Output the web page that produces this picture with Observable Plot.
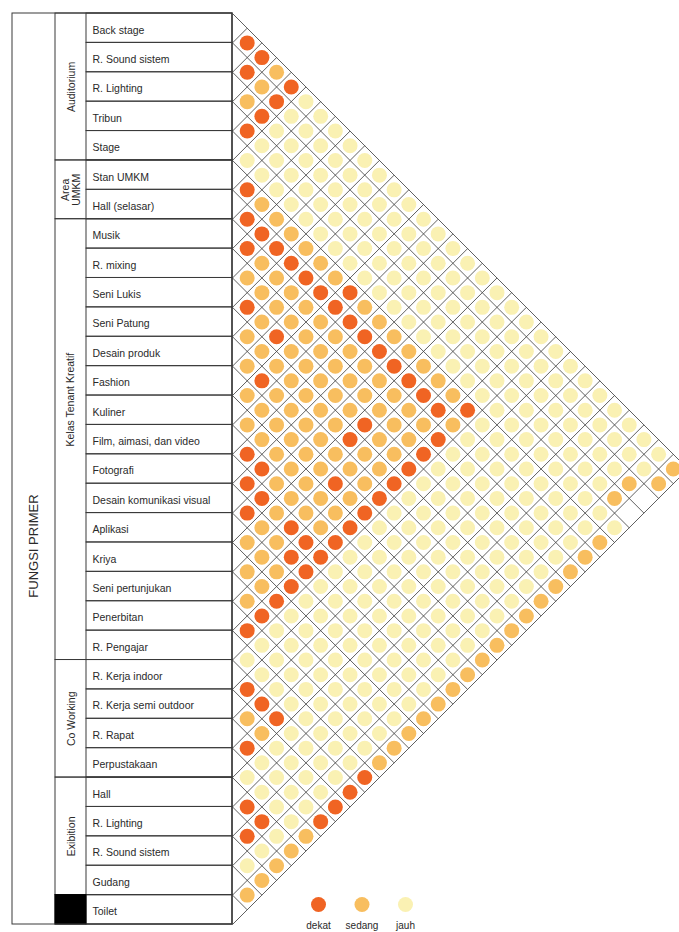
<!DOCTYPE html>
<html>
<head>
<meta charset="utf-8">
<script src="https://cdn.jsdelivr.net/npm/d3@7"></script>
<script src="https://cdn.jsdelivr.net/npm/@observablehq/plot@0.6"></script>
<style>
  html, body { margin: 0; padding: 0; background: #fff; }
  #chart svg { display: block; }
</style>
</head>
<body>
<div id="chart"></div>
<script>
// ---- data ----
const rooms = [
  "Back stage", "R. Sound sistem", "R. Lighting", "Tribun", "Stage",
  "Stan UMKM", "Hall (selasar)",
  "Musik", "R. mixing", "Seni Lukis", "Seni Patung", "Desain produk", "Fashion",
  "Kuliner", "Film, aimasi, dan video", "Fotografi", "Desain komunikasi visual",
  "Aplikasi", "Kriya", "Seni pertunjukan", "Penerbitan", "R. Pengajar",
  "R. Kerja indoor", "R. Kerja semi outdoor", "R. Rapat", "Perpustakaan",
  "Hall", "R. Lighting", "R. Sound sistem", "Gudang",
  "Toilet"
];
const groupNames = ["Auditorium", "Area\nUMKM", "Kelas Tenant Kreatif", "Co Working", "Exibition", ""];
const groupSizes = [5, 2, 15, 4, 4, 1];
const mainLabel = "FUNGSI PRIMER";
// relation of room i with rooms i+1 ... last (D = dekat, S = sedang, J = jauh)
const relations = [
  "DDSDJJJJJJJJJJJJJJJJJJJJJJJJJS",
  "DSDJJJJJJJJJJJJJJJJJJJJJJJJJS",
  "SDJJJJJJJJJJJJJJJJJJJJJJJJS",
  "DJJJJJJJJJJJJJJJJJJJJJJJJS",
  "JJJJJJJJJJJJJJJJJJJJJJJJJJ",
  "DSSSSSSDSSSSSSSDJJJJJJJJS",
  "DDDDDDDDDDDDDDSJJJJJJJJS",
  "DSSSSSSSSSSSSDJJJJJJJJS",
  "SSSSSSSSSSSSDJJJJJJJJS",
  "DSDSSSSSDSSDJJJJJJJJS",
  "SSSSSSSDSSDJJJJJJJJS",
  "SDSSSSSSSDJJJJJJJJS",
  "SSSSSSDSDJJJJJJJJS",
  "SSSSSSSDJJJJJJJJS",
  "DDSSSSDJJJJJJJJS",
  "DDSDDDJJJJJJJJS",
  "DSSDDJJJJJJJJS",
  "SSSDJJJJJJJJS",
  "SSDJJJJJJJJS",
  "SDJJJJJJJJS",
  "DJJJJJJJJS",
  "JJJJJJJJD",
  "DDDJJJJD",
  "SSJJJJD",
  "DJJJJD",
  "JJJJS",
  "DDJS",
  "DJS",
  "JS",
  "S"
];
const codes = ["D", "S", "J"];
const levelLabels = ["dekat", "sedang", "jauh"];
const levelColors = ["#F06423", "#F8BE5F", "#FAF1B3"];

// ---- derived tables ----
const N = rooms.length;
const cells = [];
relations.forEach((s, i) => {
  [...s].forEach((c, k) => {
    const j = i + 1 + k;
    cells.push({i, j, level: levelLabels[codes.indexOf(c)]});
  });
});
const groups = [];
{
  let start = 0;
  groupNames.forEach((name, g) => {
    groups.push({name, start, end: start + groupSizes[g]});
    start += groupSizes[g];
  });
}
const rowIdx = d3.range(N);
const lineIdx = d3.range(N + 1);

// ---- layout (in row units: one row = one unit) ----
const W = 679, H = 932;
const rowPx = 911 / N;          // pixel height of one row
const leftPx = 232, topPx = 13;  // left edge of matrix, top of table
const ux = px => (px - leftPx) / rowPx;
const uy = px => (px - topPx) / rowPx;
const tableLeft = ux(12), groupLeft = ux(55), nameLeft = ux(86);

const font = "'Liberation Sans', Arial, Helvetica, sans-serif";
const ink = "#2a2a2a";
const labelled = groups.filter(g => g.name !== "");
const isWide = g => g.end - g.start > 10;

const chart = Plot.plot({
  width: W,
  height: H,
  margin: 0,
  x: {domain: [ux(0), ux(W)], range: [0, W], axis: null},
  y: {domain: [uy(0), uy(H)], range: [0, H], axis: null},
  color: {domain: levelLabels, range: levelColors},
  style: {fontFamily: font, background: "#fff", color: ink, overflow: "hidden"},
  marks: [
    // diamond grid
    Plot.link(lineIdx, {x1: 0, y1: k => k, x2: k => (N - k) / 2, y2: k => (N + k) / 2,
      stroke: "#444", strokeWidth: 0.85}),
    Plot.link(lineIdx, {x1: 0, y1: k => k, x2: k => k / 2, y2: k => k / 2,
      stroke: "#444", strokeWidth: 0.85}),
    // relation circles
    Plot.dot(cells, {x: d => (d.j - d.i) / 2, y: d => (d.i + d.j + 1) / 2,
      r: 7.5, fill: "level", stroke: null}),
    // table: room rows
    Plot.rect(rowIdx, {x1: nameLeft, x2: 0, y1: k => k, y2: k => k + 1,
      fill: "none", stroke: "#3a3a3a", strokeWidth: 1}),
    // group cells
    Plot.rect(groups, {x1: groupLeft, x2: 0, y1: "start", y2: "end",
      fill: "none", stroke: "#3a3a3a", strokeWidth: 1}),
    Plot.rect(groups.filter(g => g.name === ""), {x1: groupLeft, x2: nameLeft, y1: "start", y2: "end",
      fill: "#000", stroke: "#000"}),
    // outer frame
    Plot.rect([0], {x1: tableLeft, x2: 0, y1: 0, y2: N, fill: "none", stroke: "#3a3a3a", strokeWidth: 1}),
    // texts
    Plot.text(rooms, {x: nameLeft, y: (d, k) => k + 0.5, text: d => d, dx: 6, dy: 2,
      textAnchor: "start", fontSize: 10.5, fill: ink}),
    Plot.text(labelled.filter(g => !isWide(g)), {x: (groupLeft + nameLeft) / 2, y: g => (g.start + g.end) / 2,
      text: "name", rotate: -90, fontSize: 10.5, lineHeight: 1.05, fill: ink}),
    Plot.text(labelled.filter(isWide), {x: (groupLeft + nameLeft) / 2, y: g => (g.start + g.end) / 2,
      text: "name", rotate: -90, fontSize: 10.5, fill: ink, dy: -40}),
    Plot.text([mainLabel], {x: (tableLeft + groupLeft) / 2, y: N / 2, text: d => d,
      rotate: -90, fontSize: 13, fill: ink, dy: 77}),
    // legend
    Plot.dot(levelLabels, {x: (d, k) => ux(318) + k * 1.48, y: uy(904), r: 7.5, fill: d => d}),
    Plot.text(levelLabels, {x: (d, k) => ux(318) + k * 1.48, y: uy(925), text: d => d,
      fontSize: 10, fill: ink})
  ]
});
document.getElementById("chart").appendChild(chart);
</script>
</body>
</html>
